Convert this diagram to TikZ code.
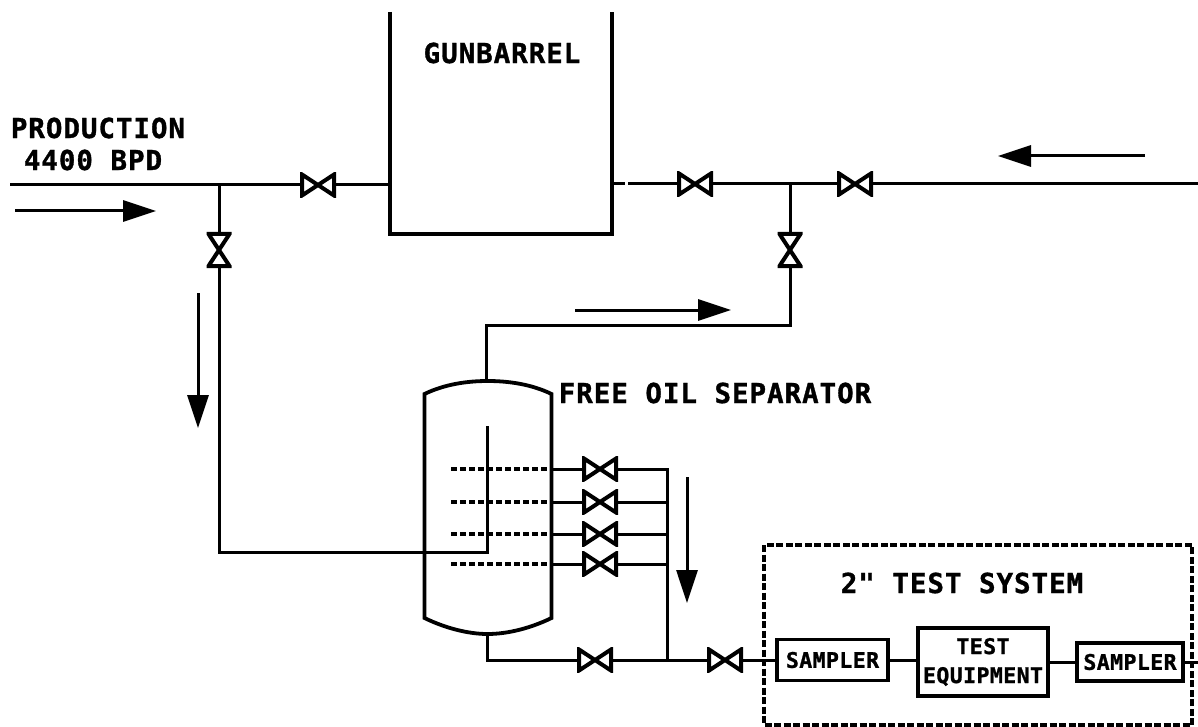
\documentclass[tikz,border=0pt]{standalone}
\usepackage{fontspec}
\newfontfamily\bigplot[LetterSpace=3.5,FakeBold=1.2]{DejaVu Sans Mono Bold}
\newfontfamily\smallplot[LetterSpace=2,FakeBold=1.2]{DejaVu Sans Mono Bold}
\usetikzlibrary{arrows.meta,calc}
\tikzset{
  pipe/.style={line width=3pt,line join=miter},
  heavy/.style={line width=3.6pt,line join=miter},
  flow/.style={line width=3pt,-{Triangle[length=33pt,width=21pt]}},
  dashpipe/.style={line width=3.2pt,dash pattern=on 6pt off 3pt},
  valve/.style={minimum width=36pt,minimum height=25pt,inner sep=0pt,outer sep=0pt,
    path picture={\draw[line width=4pt,line join=miter]
      ($(path picture bounding box.south west)+(2,-2)$) --
      ($(path picture bounding box.north east)+(-2,2)$) --
      ($(path picture bounding box.south east)+(-2,-2)$) --
      ($(path picture bounding box.north west)+(2,2)$) -- cycle;}},
  valvev/.style={minimum width=25pt,minimum height=36pt,inner sep=0pt,outer sep=0pt,
    path picture={\draw[line width=4pt,line join=miter]
      ($(path picture bounding box.south west)+(2,-2)$) --
      ($(path picture bounding box.north east)+(-2,2)$) --
      ($(path picture bounding box.north west)+(2,2)$) --
      ($(path picture bounding box.south east)+(-2,-2)$) -- cycle;}},
  biglabel/.style={inner sep=0pt,font=\bigplot\fontsize{27.5pt}{32pt}\selectfont,text=black},
  smalllabel/.style={inner sep=0pt,font=\smallplot\fontsize{21.5pt}{29pt}\selectfont,text=black,align=center},
  box/.style={draw,line width=3.8pt,inner sep=0pt,outer sep=0pt},
  ghost/.style={inner sep=0pt,outer sep=0pt},
}
\begin{document}
\begin{tikzpicture}[x=1pt,y=-1pt]
\useasboundingbox (0,0) rectangle (1198,727);
% labels
\node[biglabel] (lgun) at (502,53) {GUNBARREL};
\node[biglabel] (lprod) at (98,128) {PRODUCTION};
\node[biglabel] (lbpd) at (93,160) {4400 BPD};
\node[biglabel] (lsep) at (715,393) {FREE OIL SEPARATOR};
\node[biglabel] (ltest) at (962,583) {2" TEST SYSTEM};
% equipment outlines
\node[ghost,minimum width=222pt,minimum height=222pt] (tank) at (501,123) {};
\draw[heavy] (tank.north west) -- (tank.south west) -- (tank.south east) -- (tank.north east);
\node[ghost,minimum width=127pt,minimum height=253pt] (vessel) at (487.5,507.5) {};
\coordinate (vtl) at (424.5,394);
\coordinate (vtr) at (551.5,394);
\coordinate (vbl) at (424.5,618);
\coordinate (vbr) at (551.5,618);
\draw[line width=3.8pt,line join=miter] (vtl) .. controls (445,384) and (468,381) .. (vessel.north) .. controls (508,381) and (531,384) .. (vtr)
  -- (vbr) .. controls (531,628) and (508,634) .. (vessel.south) .. controls (468,634) and (445,628) .. (vbl) -- cycle;
\draw[line width=3.4pt,draw=black,dash pattern=on 7pt off 2.5pt] (764,545) rectangle (1192,725);
% valves
\node[valve] (v1) at (318,185) {};
\node[valve] (v2) at (695,184) {};
\node[valve] (v3) at (855,184) {};
\node[valvev] (v4) at (219,250) {};
\node[valvev] (v5) at (790,250) {};
\node[valve] (v6) at (600,469) {};
\node[valve] (v7) at (600,502) {};
\node[valve] (v8) at (600,534) {};
\node[valve] (v9) at (600,564) {};
\node[valve] (v10) at (595,660) {};
\node[valve] (v11) at (725,660) {};
% blocks
\node[box,minimum width=111pt,minimum height=41pt,smalllabel] (s1) at (832.5,660) {SAMPLER};
\node[box,minimum width=130pt,minimum height=68pt,smalllabel] (te) at (983,662) {TEST\\EQUIPMENT};
\node[box,minimum width=106pt,minimum height=38pt,smalllabel] (s2) at (1130,662) {SAMPLER};
% free ends and junctions
\coordinate (inlet) at (10,185);
\coordinate (tee1) at (219,185);
\coordinate (tee2) at (790,184);
\coordinate (gapa) at (625,184);
\coordinate (gapb) at (628,184);
\coordinate (outlet) at (1198,184);
\coordinate (corner1) at (790,325);
\coordinate (corner2) at (486,325);
\coordinate (sysout) at (1198,660);
\coordinate (dip) at (487,426);
\coordinate (dipb) at (487,552);
\coordinate (cornerb) at (219,552);
\coordinate (hdrtop) at (667,469);
\coordinate (hdr2) at (667,502);
\coordinate (hdr3) at (667,534);
\coordinate (hdr4) at (667,564);
\coordinate (hdrbot) at (667,660);
\coordinate (d1) at (451,469);
\coordinate (d2) at (451,502);
\coordinate (d3) at (451,534);
\coordinate (d4) at (451,564);
\coordinate (e1) at (551,469);
\coordinate (e2) at (551,502);
\coordinate (e3) at (551,534);
\coordinate (e4) at (551,564);
% pipes
\draw[pipe] (inlet) -- (v1.west);
\draw[pipe] (v1.east) -- (tank.west |- v1.east);
\draw[pipe] (tank.east |- v2.west) -- (gapa);
\draw[pipe] (gapb) -- (v2.west);
\draw[pipe] (v2.east) -- (v3.west);
\draw[pipe] (v3.east) -- (outlet);
\draw[pipe] (tee1) -- (v4.north);
\draw[pipe] (v4.south) -- (cornerb) -- (dipb) -- (dip);
\draw[pipe] (tee2) -- (v5.north);
\draw[pipe] (v5.south) -- (corner1) -- (corner2) -- (corner2 |- vessel.north);
\draw[dashpipe] (d1) -- (e1);
\draw[dashpipe] (d2) -- (e2);
\draw[dashpipe] (d3) -- (e3);
\draw[dashpipe] (d4) -- (e4);
\draw[pipe] (e1) -- (v6.west);
\draw[pipe] (e2) -- (v7.west);
\draw[pipe] (e3) -- (v8.west);
\draw[pipe] (e4) -- (v9.west);
\draw[pipe] (v6.east) -- (hdrtop) -- (hdrbot);
\draw[pipe] (v7.east) -- (hdr2);
\draw[pipe] (v8.east) -- (hdr3);
\draw[pipe] (v9.east) -- (hdr4);
\draw[pipe] (vessel.south) -- (vessel.south |- v10.west) -- (v10.west);
\draw[pipe] (v10.east) -- (hdrbot) -- (v11.west);
\draw[pipe] (v11.east) -- (s1.west);
\draw[pipe] (s1.east) -- (te.west |- s1.east);
\draw[pipe] (te.east |- s2.west) -- (s2.west);
\draw[pipe] (s2.east) -- (sysout |- s2.east);
% flow arrows
\coordinate (a1s) at (15,211);
\coordinate (a1e) at (156,211);
\coordinate (a2s) at (1145,156);
\coordinate (a2e) at (998,156);
\coordinate (a3s) at (198,293);
\coordinate (a3e) at (198,428);
\coordinate (a4s) at (575,310);
\coordinate (a4e) at (731,310);
\coordinate (a5s) at (687,477);
\coordinate (a5e) at (687,603);
\draw[flow] (a1s) -- (a1e);
\draw[flow] (a2s) -- (a2e);
\draw[flow] (a3s) -- (a3e);
\draw[flow] (a4s) -- (a4e);
\draw[flow] (a5s) -- (a5e);
\end{tikzpicture}
\end{document}
